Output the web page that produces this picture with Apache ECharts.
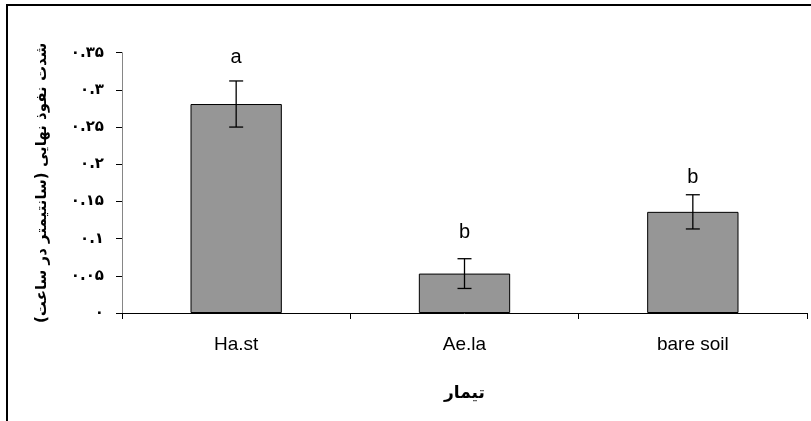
<!DOCTYPE html>
<html>
<head>
<meta charset="utf-8">
<script src="https://cdn.jsdelivr.net/npm/echarts@6/dist/echarts.min.js"></script>
<style>
html,body{margin:0;padding:0;background:#fff;}
#chart{width:811px;height:421px;}
</style>
</head>
<body>
<div id="chart"></div>
<script>
var categories = ['Ha.st', 'Ae.la', 'bare soil'];
var means = [0.281, 0.053, 0.136];
var errors = [0.031, 0.020, 0.023];
var letters = ['a', 'b', 'b'];
var letterPos = [0.343, 0.108, 0.182];
var yTickLabels = ['۰', '۰.۰۵', '۰.۱', '۰.۱۵', '۰.۲', '۰.۲۵', '۰.۳', '۰.۳۵'];
var yTitle = 'شدت نفوذ نهایی (سانتیمتر در ساعت)';
var xTitle = 'تیمار';

var chart = echarts.init(document.getElementById('chart'), null, {renderer: 'canvas'});

var errData = categories.map(function (c, i) {
  return [i, means[i], errors[i], letterPos[i]];
});

var option = {
  animation: false,
  backgroundColor: '#ffffff',
  graphic: [{
    type: 'rect',
    shape: {x: 7, y: 5, width: 810, height: 420},
    style: {fill: 'none', stroke: '#000', lineWidth: 2},
    silent: true
  }],
  grid: {left: 122, right: 4, top: 52.7, bottom: 108},
  xAxis: {
    type: 'category',
    data: categories,
    name: xTitle,
    nameLocation: 'middle',
    nameGap: 72,
    nameTextStyle: {fontFamily: 'DejaVu Sans', fontWeight: 'bold', fontSize: 17, color: '#000'},
    axisLine: {lineStyle: {color: '#000', width: 1}},
    axisTick: {show: true, alignWithLabel: false, length: 6, lineStyle: {color: '#000'}},
    axisLabel: {margin: 22, fontFamily: 'Liberation Sans', fontSize: 19, color: '#000'},
    splitLine: {show: false}
  },
  yAxis: {
    type: 'value',
    min: 0,
    max: 0.35,
    interval: 0.05,
    name: yTitle,
    nameLocation: 'middle',
    nameRotate: 90,
    nameGap: 72,
    nameTextStyle: {fontFamily: 'DejaVu Sans', fontWeight: 'bold', fontSize: 15, color: '#000'},
    axisLine: {show: true, lineStyle: {color: '#868686', width: 1}},
    axisTick: {show: true, length: 6, lineStyle: {color: '#000'}},
    axisLabel: {
      margin: 18,
      fontFamily: 'DejaVu Sans',
      fontWeight: 'bold',
      fontSize: 15,
      color: '#000',
      formatter: function (v) {
        return yTickLabels[Math.round(v / 0.05)];
      }
    },
    splitLine: {show: false}
  },
  series: [{
    type: 'bar',
    data: means,
    barCategoryGap: '60%',
    itemStyle: {color: '#969696', borderColor: '#000', borderWidth: 1}
  }, {
    type: 'custom',
    data: errData,
    z: 10,
    renderItem: function (params, api) {
      var idx = api.value(0);
      var m = api.value(1);
      var e = api.value(2);
      var lp = api.value(3);
      var top = api.coord([idx, m + e]);
      var bot = api.coord([idx, m - e]);
      var lpt = api.coord([idx, lp]);
      var cap = 7;
      var ls = {stroke: '#000', lineWidth: 1.3};
      return {
        type: 'group',
        children: [
          {type: 'line', shape: {x1: top[0], y1: top[1], x2: bot[0], y2: bot[1]}, style: ls},
          {type: 'line', shape: {x1: top[0] - cap, y1: top[1], x2: top[0] + cap, y2: top[1]}, style: ls},
          {type: 'line', shape: {x1: bot[0] - cap, y1: bot[1], x2: bot[0] + cap, y2: bot[1]}, style: ls},
          {type: 'text', style: {
            text: letters[params.dataIndex],
            x: lpt[0], y: lpt[1],
            align: 'center', verticalAlign: 'middle',
            fontFamily: 'Liberation Sans', fontSize: 20, fill: '#000'
          }}
        ]
      };
    }
  }]
};
chart.setOption(option);
</script>
</body>
</html>
